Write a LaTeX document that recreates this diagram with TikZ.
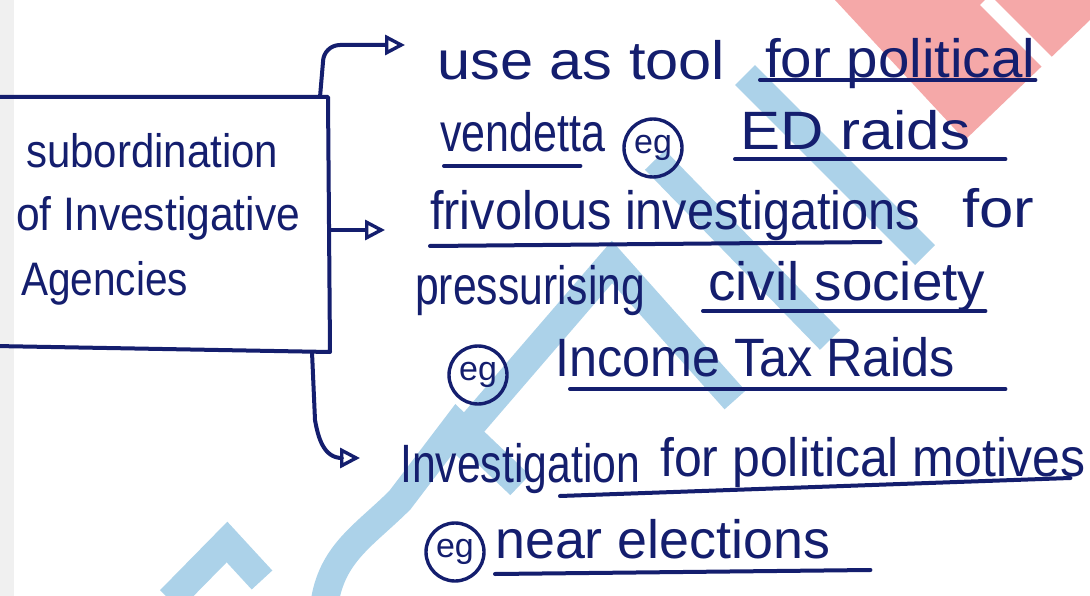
\documentclass[tikz,border=0pt]{standalone}
\usepackage{fontspec}
\usepackage{graphicx}
\setmainfont{Liberation Sans}
\usetikzlibrary{arrows.meta}
\definecolor{ink}{RGB}{20,30,110}
\definecolor{markblue}{RGB}{172,210,233}
\definecolor{markpink}{RGB}{245,168,168}
% squeeze a handwritten phrase to the width it takes in the note
\newcommand\handw[2]{\resizebox{#1pt}{\height}{#2}}
\begin{document}
\begin{tikzpicture}[x=1pt,y=-1pt,
    ink/.style={draw=ink, line width=4pt, line cap=round, line join=round},
    txt/.style={anchor=base west, inner sep=0pt, text=ink, font=\fontsize{54}{60}\selectfont},
    boxtxt/.style={txt, font=\fontsize{47}{52}\selectfont},
    egmark/.style={circle, draw=ink, line width=3.4pt, inner sep=0pt, minimum size=58pt, text=ink, font=\fontsize{34}{36}\selectfont},
    arr/.style={ink, -{Triangle[open, length=20pt, width=20pt, line width=3.4pt]}},
    band/.style={draw=markblue, line width=28pt, line join=miter}]
\useasboundingbox (0,0) rectangle (1090,596);
\fill[white] (0,0) rectangle (1090,596);
% watermark in the background
\fill[markpink] (835,0) -- (1090,0) -- (1090,20) -- (965,140) -- cycle;
\draw[white, line width=14pt] (985,0) -- (1080,95);
\draw[band] (450,450) -- (612,262) -- (735,400);
\draw[band] (655,160) -- (830,340);
\draw[band] (745,75) -- (925,255);
\draw[band] (325,600) to[out=80,in=225] (400,500) -- (457,425) -- (520,485);
\draw[band] (170,600) -- (227,542) -- (262,580);
\fill[black!6] (0,0) rectangle (14,596);
% main box
\draw[ink] (-5,97) -- (328,97) -- (330,352) -- (-5,346);
\node[boxtxt] (sub) at (26,168) {\handw{252}{subordination}};
\node[boxtxt] (inv) at (16,230) {\handw{284}{of Investigative}};
\node[boxtxt] (agn) at (21,295) {\handw{167}{Agencies}};
% branch ends
\coordinate (e1) at (405,45);
\coordinate (e2) at (385,230);
\coordinate (e3) at (360,458);
\draw[arr] (320,97) -- (323,62) to[out=90,in=180] (340,45) -- (e1);
\draw[arr] (330,230) -- (e2);
\draw[arr] (312,352) -- (315,420) to[out=-80,in=180] (342,458) -- (e3);
% first branch
\node[txt] (use) at (437,80) {\handw{288}{use as tool}};
\node[txt] (pol) at (765,78) {\handw{270}{for political}};
\node[txt] (ven) at (440,152) {\handw{165}{vendetta}};
\node[egmark] (eg1) at (653,148) {eg};
\node[txt] (ed) at (740,150) {\handw{230}{ED raids}};
\draw[ink] ([xshift=-5pt,yshift=-2pt]pol.base west) -- ([yshift=-2pt]pol.base east);
\draw[ink] ([xshift=4pt,yshift=-14pt]ven.base west) -- ([xshift=-25pt,yshift=-14pt]ven.base east);
\draw[ink] ([xshift=-5pt,yshift=-9pt]ed.base west) -- ([xshift=35pt,yshift=-9pt]ed.base east);
% second branch
\node[txt] (friv) at (430,230) {\handw{490}{frivolous investigations}};
\node[txt] (for) at (962,228) {\handw{72}{for}};
\node[txt] (pres) at (415,305) {\handw{230}{pressurising}};
\node[txt] (civ) at (708,300) {\handw{277}{civil society}};
\node[egmark] (eg2) at (478,375) {eg};
\node[txt] (inc) at (555,376) {\handw{400}{Income Tax Raids}};
\draw[ink] ([yshift=-16pt]friv.base west) -- ([xshift=-40pt,yshift=-12pt]friv.base east);
\draw[ink] ([xshift=-5pt,yshift=-11pt]civ.base west) -- ([yshift=-11pt]civ.base east);
\draw[ink] ([xshift=15pt,yshift=-13pt]inc.base west) -- ([xshift=50pt,yshift=-13pt]inc.base east);
% third branch
\node[txt] (invs) at (400,482) {\handw{240}{Investigation}};
\node[txt] (mot) at (660,476) {\handw{425}{for political motives}};
\node[egmark] (eg3) at (455,552) {eg};
\node[txt] (near) at (495,558) {\handw{335}{near elections}};
\draw[ink] ([xshift=-100pt,yshift=-20pt]mot.base west) -- ([xshift=-15pt,yshift=-2pt]mot.base east);
\draw[ink] ([yshift=-16pt]near.base west) -- ([xshift=40pt,yshift=-12pt]near.base east);
\end{tikzpicture}
\end{document}
